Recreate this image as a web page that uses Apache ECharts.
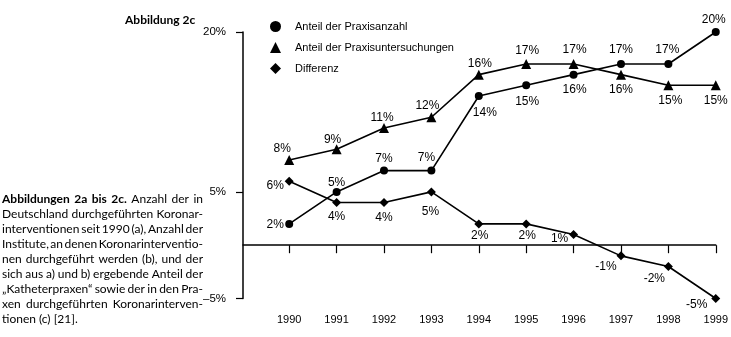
<!DOCTYPE html>
<html><head><meta charset="utf-8">
<script src="https://cdn.jsdelivr.net/npm/echarts@6/dist/echarts.min.js"></script>
<style>html,body{margin:0;padding:0;background:#fff}#c{width:731px;height:337px}</style>
</head><body><div id="c"></div>
<script>
// ---- data ----
const years = [1990, 1991, 1992, 1993, 1994, 1995, 1996, 1997, 1998, 1999];
const praxisanzahl = [2, 5, 7, 7, 14, 15, 16, 17, 17, 20];
const praxisuntersuchungen = [8, 9, 11, 12, 16, 17, 17, 16, 15, 15];
const differenz = [6, 4, 4, 5, 2, 2, 1, -1, -2, -5];
const seriesNames = ['Anteil der Praxisanzahl', 'Anteil der Praxisuntersuchungen', 'Differenz'];
const yTickValues = [-5, 5, 20];
const figTitle = 'Abbildung 2c';
const captionLines = [
  'Abbildungen 2a bis 2c. Anzahl der in',
  'Deutschland durchgeführten Koronar-',
  'interventionen seit 1990 (a), Anzahl der',
  'Institute, an denen Koronarinterventio-',
  'nen durchgeführt werden (b), und der',
  'sich aus a) und b) ergebende Anteil der',
  '„Katheterpraxen“ sowie der in den Pra-',
  'xen durchgeführten Koronarinterven-',
  'tionen (c) [21].'
];
const captionBoldWords = 4;

// ---- label style offsets (style, not data) ----
const offA = [[-14,1],[0,-9.5],[0,-11.5],[-5,-12.5],[6,17],[1,16.5],[1,15.5],[0,-14],[-1,-14],[-2,-12]];
const offB = [[-7,-11],[-4,-10],[-2,-10],[-4,-12],[1,-11],[1,-13],[1,-14],[0,15],[2,15],[0,15]];
const offC = [[-14,4],[0,14],[0,15],[-1,20],[1,12],[1,12],[-14,4.5],[-15,11],[-14,12.5],[-19,6.5]];

const narrow = "'Liberation Sans Narrow','Arial Narrow','Liberation Sans',Arial,sans-serif";
const regular = "'Liberation Sans',Arial,sans-serif";

function mk(vals, offs) {
  return vals.map((v, i) => ({
    value: [years[i], v],
    label: { offset: offs[i] }
  }));
}
function series(name, vals, offs, symbol, size) {
  return {
    name, type: 'line', xAxisIndex: 0, yAxisIndex: 0,
    data: mk(vals, offs), symbol, symbolSize: size,
    itemStyle: { color: '#000' },
    lineStyle: { color: '#000', width: 1.6 },
    label: {
      show: true, position: 'inside', color: '#000',
      fontFamily: narrow, fontSize: 12,
      formatter: p => p.value[1] + '%'
    },
    emphasis: { disabled: true },
    animation: false
  };
}

// ---- caption (justified) ----
const ctx = document.createElement('canvas').getContext('2d');
function measure(t, bold) {
  ctx.font = (bold ? 'bold ' : '') + '12px Lato';
  return ctx.measureText(t).width;
}
const graphics = [];
const capLeft = 2, capRight = 203, capTop = 199.5, capLH = 15;
captionLines.forEach((line, li) => {
  const words = line.split(' ');
  const bolds = words.map((w, wi) => li === 0 && wi < captionBoldWords);
  const widths = words.map((w, wi) => measure(w, bolds[wi]));
  const total = widths.reduce((a, b) => a + b, 0);
  const last = li === captionLines.length - 1;
  const gap = last ? measure(' ', false) : (capRight - capLeft - total) / (words.length - 1);
  let x = capLeft;
  words.forEach((w, wi) => {
    graphics.push({
      type: 'text', x: x, y: capTop + li * capLH, silent: true,
      style: { text: w, fontFamily: 'Lato', fontSize: 12, fontWeight: bolds[wi] ? 'bold' : 'normal',
               fill: '#000', verticalAlign: 'middle', align: 'left' }
    });
    x += widths[wi] + gap;
  });
});
graphics.push({
  type: 'text', x: 125, y: 20, silent: true,
  style: { text: figTitle, fontFamily: 'Lato', fontSize: 12, fontWeight: 'bold', fill: '#000', verticalAlign: 'middle' }
});

const xMin = 1989.025, xMax = 1999;
const chart = echarts.init(document.getElementById('c'), null, { renderer: 'canvas' });
chart.setOption({
  animation: false,
  backgroundColor: '#fff',
  grid: { left: 243, right: 14.3, top: 32, bottom: 38.5, containLabel: false },
  legend: {
    orient: 'vertical', left: 265, top: 16, itemWidth: 11, itemHeight: 11, itemGap: 10,
    selectedMode: false,
    textStyle: { fontFamily: regular, fontSize: 11, color: '#000', padding: [0, 0, 0, 9] },
    data: [
      { name: seriesNames[0], icon: 'circle' },
      { name: seriesNames[1], icon: 'triangle' },
      { name: seriesNames[2], icon: 'diamond' }
    ]
  },
  xAxis: [
    {
      type: 'value', min: xMin, max: xMax, position: 'bottom',
      axisLine: { show: true, onZero: true, lineStyle: { color: '#000', width: 1.5 } },
      axisTick: { show: true, customValues: years, length: 8, lineStyle: { color: '#000', width: 1.2 } },
      axisLabel: { show: false },
      splitLine: { show: false }
    },
    {
      type: 'value', min: xMin, max: xMax, position: 'bottom',
      axisLine: { show: false, onZero: false },
      axisTick: { show: false },
      axisLabel: { show: true, customValues: years, margin: 16, color: '#000', fontFamily: narrow, fontSize: 11,
                   formatter: v => String(v) },
      splitLine: { show: false }
    }
  ],
  yAxis: {
    type: 'value', min: -5, max: 20, interval: 5,
    axisLine: { show: true, onZero: false, lineStyle: { color: '#000', width: 1.5 } },
    axisTick: { show: true, customValues: yTickValues, length: 7, lineStyle: { color: '#000', width: 1.2 } },
    axisLabel: { show: true, customValues: yTickValues, margin: 17, color: '#000', fontFamily: regular, fontSize: 11.5,
                 formatter: v => (v < 0 ? '–' + (-v) : v) + '%' },
    splitLine: { show: false }
  },
  series: [
    series(seriesNames[0], praxisanzahl, offA, 'circle', 8),
    series(seriesNames[1], praxisuntersuchungen, offB, 'triangle', 10),
    series(seriesNames[2], differenz, offC, 'diamond', 9)
  ],
  graphic: graphics
});
</script></body></html>
